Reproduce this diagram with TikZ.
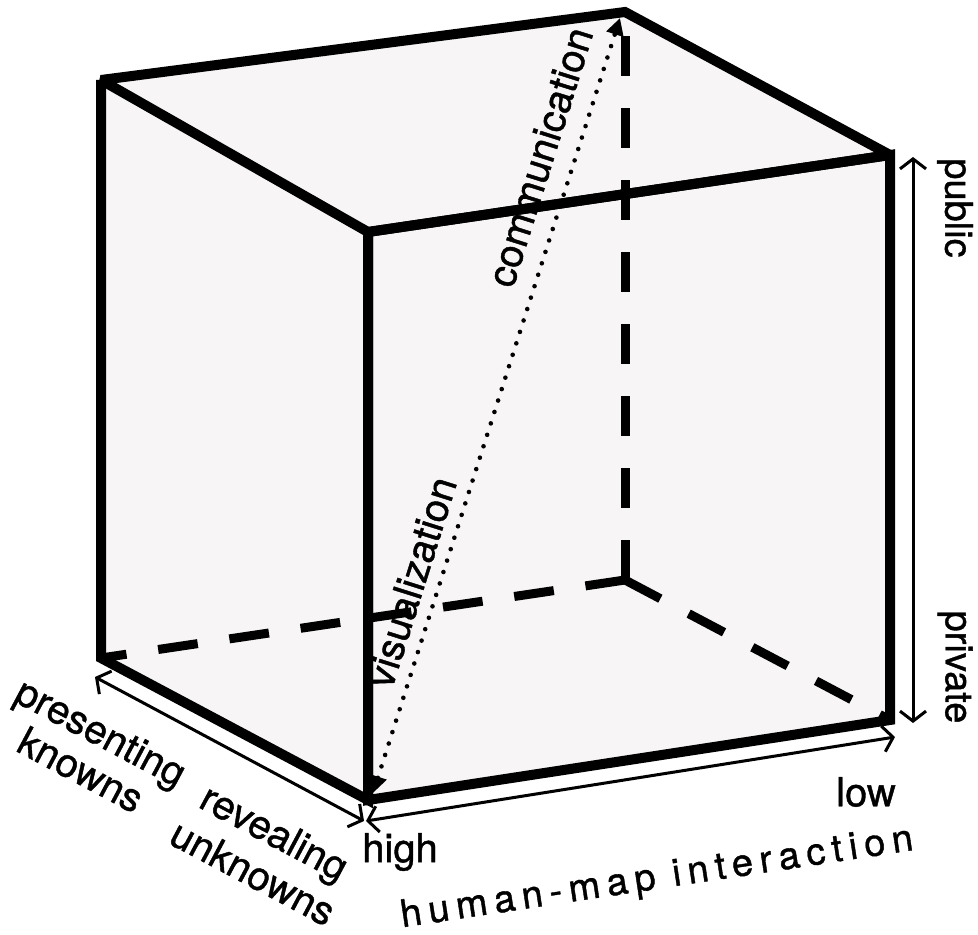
\documentclass[tikz,border=0pt]{standalone}
\usepackage{fontspec}
\setmainfont[FakeBold=1]{TeX Gyre Heros}
\newfontfamily\spacedfont[LetterSpace=18,FakeBold=1]{TeX Gyre Heros}
\usetikzlibrary{arrows.meta}
\definecolor{facegray}{RGB}{247,245,246}
\begin{document}
\begin{tikzpicture}[x=0.5pt,y=-0.5pt,
  edge/.style={line width=5pt, line join=miter, miter limit=2.5},
  hidden/.style={line width=4.5pt, dash pattern=on 20pt off 16pt},
  axisarrow/.style={line width=1.5pt, {Straight Barb[length=5pt,width=13pt,line width=1.5pt]}-{Straight Barb[length=5pt,width=13pt,line width=1.5pt]}},
  dotarrow/.style={line width=2.3pt, dash pattern=on 0pt off 6pt, line cap=round, {Triangle[length=8.5pt,width=8.5pt]}-{Triangle[length=8.5pt,width=8.5pt]}},
  lab/.style={font=\fontsize{20}{24}\selectfont, inner sep=0pt},
  sidelab/.style={font=\fontsize{19}{23}\selectfont, inner sep=0pt}]
\useasboundingbox (0,0) rectangle (978,935);
% cube corners
\coordinate (BTL) at (101,80);
\coordinate (BTR) at (625,12);
\coordinate (FTR) at (890,155);
\coordinate (FTL) at (368,232);
\coordinate (BBL) at (101,658);
\coordinate (BBR) at (625,580);
\coordinate (FBR) at (890,720);
\coordinate (FBL) at (368,800);
% faces
\fill[facegray] (BTL) -- (BTR) -- (FTR) -- (FBR) -- (FBL) -- (BBL) -- cycle;
% hidden edges
\draw[hidden] (BBR) -- (BTR);
\draw[hidden] (BBR) -- (BBL);
\draw[hidden] (BBR) -- (FBR);
% diagonal dotted arrow
\coordinate (dA) at (373,793);
\coordinate (dB) at (620,18);
\draw[dotarrow] (dA) -- (dB);
% visible edges
\draw[edge] (BTL) -- (BTR) -- (FTR) -- (FTL) -- cycle;
\draw[edge] (BTL) -- (BBL) -- (FBL) -- (FTL);
\draw[edge] (FTL) -- (FTR) -- (FBR) -- (FBL) -- cycle;
% axis arrows
\coordinate (vT) at (913,157);
\coordinate (vB) at (913,723);
\draw[axisarrow] (vT) -- (vB);
\coordinate (lL) at (95,677);
\coordinate (lR) at (364,821);
\draw[axisarrow] (lL) -- (lR);
\coordinate (rL) at (366,821);
\coordinate (rR) at (895,737);
\draw[axisarrow] (rL) -- (rR);
% labels
\node[lab, rotate=72.5] (comm) at (540,157) {communication};
\node[lab, rotate=72.5] (vis) at (411,582) {visualization};
\node[sidelab, rotate=-90] (pub) at (955,208) {public};
\node[sidelab, rotate=-90] (priv) at (955,667) {private};
\node[lab, rotate=-28, align=center, font=\fontsize{20}{21.5}\selectfont] (presk) at (91,751) {presenting\\knowns};
\node[lab, rotate=-28, align=center, font=\fontsize{20}{23}\selectfont] (revun) at (264,852) {revealing\\unknowns};
\node[lab] (high) at (400,852) {high};
\node[lab] (low) at (866,792) {low};
\node[inner sep=0pt, rotate=8.6, font=\spacedfont\fontsize{19}{22}\selectfont] (hmi) at (657,879) {human-map interaction};
\end{tikzpicture}
\end{document}
